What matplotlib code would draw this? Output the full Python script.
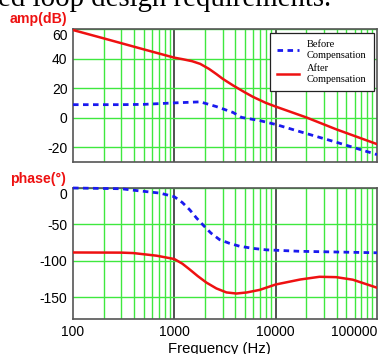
import matplotlib
matplotlib.use('Agg')
import matplotlib.pyplot as plt
from matplotlib.ticker import FixedLocator, NullFormatter

# amplitude (dB)
amp_freq_after = [100, 200, 500, 1000, 1200, 1500, 1800, 2200, 2600, 3000, 3800, 5000, 6000, 8000,
                  10000, 20000, 40000, 100000]
amp_after = [59.3, 53.7, 46.2, 40.6, 39.6, 38.2, 36.4, 33.0, 29.5, 26.3, 21.8, 17.0, 14.0, 10.0,
             7.5, 0.2, -8.0, -17.9]
amp_freq_before = [100, 300, 500, 1000, 1800, 2600, 3800, 4600, 7000, 10000, 20000, 40000, 100000]
amp_before = [8.8, 8.8, 9.0, 10.0, 10.7, 7.5, 3.5, 0.2, -2.0, -4.6, -10.7, -16.7, -25.0]

# phase (deg)
ph_freq_before = [100, 300, 393, 720, 1000, 1200, 1420, 1650, 1925, 2300, 2800, 3500, 4400, 6000,
                  8100, 17500, 100000]
ph_before = [0, -1, -3, -7, -12, -20, -30, -41, -51, -62, -71, -76, -80, -83, -85, -87, -89]
ph_freq_after = [100, 300, 393, 667, 1000, 1200, 1420, 1700, 2075, 2600, 3270, 4100, 5200, 6950,
                 10000, 17500, 27100, 39600, 57700, 100000]
ph_after = [-88.6, -88.8, -89.4, -93, -97.6, -104, -112, -121, -130, -138, -143.5, -145, -143.5,
            -140, -132.6, -125.7, -122, -122.5, -126, -137]

x_ticks = [100, 1000, 10000, 100000]
x_labels = ['100', '1000', '10000', '100000']

green = '#3fe83f'
red = '#ee1111'
blue = '#1a1aee'

plt.rcParams['font.family'] = ['Liberation Sans', 'DejaVu Sans']
plt.rcParams['axes.unicode_minus'] = False

fig = plt.figure(figsize=(3.79, 3.54), dpi=100)
W, H = 379.0, 354.0


def px_axes(l, t, r, b):
    return fig.add_axes([l / W, 1 - b / H, (r - l) / W, (b - t) / H])


def style(ax, yticks):
    ax.set_xscale('log')
    ax.set_xlim(100, 100000)
    ax.xaxis.set_minor_locator(FixedLocator([m * 10 ** e for e in range(2, 5) for m in range(2, 10)]))
    ax.xaxis.set_minor_formatter(NullFormatter())
    ax.set_yticks(yticks)
    ax.grid(which='minor', axis='x', color=green, lw=1.0)
    ax.grid(which='major', axis='y', color=green, lw=1.0)
    for d in [1000, 10000]:
        ax.axvline(d, color='#333333', lw=1.2, zorder=1.5)
    ax.tick_params(which='both', length=0, labelsize=10, pad=4)
    for s in ax.spines.values():
        s.set_color('#555555')
        s.set_linewidth(1.2)
    # top label sits just below the frame, as in the original
    ax.yaxis.get_majorticklabels()[-1].set_verticalalignment('top')


ax1 = px_axes(73, 29, 377, 162)
style(ax1, [-20, 0, 20, 40, 60])
ax1.set_ylim(-30, 60)
ax1.set_xticklabels([])
ax1.plot(amp_freq_before, amp_before, color=blue, lw=2, ls=(0, (2, 1.6)), label='Before\nCompensation', zorder=3)
ax1.plot(amp_freq_after, amp_after, color=red, lw=1.8, label='After\nCompensation', zorder=3)
leg = ax1.legend(loc='upper right', bbox_to_anchor=(0.99, 0.97), borderaxespad=0,
                 prop={'family': 'Liberation Serif', 'size': 7.5}, fancybox=False,
                 edgecolor='#222222', framealpha=1, handlelength=2.1, handletextpad=0.8,
                 borderpad=0.7, labelspacing=0.45)
leg.get_frame().set_linewidth(0.9)

ax2 = px_axes(73, 188, 377, 319)
style(ax2, [-150, -100, -50, 0])
ax2.set_ylim(-180, 0)
ax2.set_xticks(x_ticks)
ax2.set_xticklabels(x_labels)
ax2.xaxis.get_majorticklabels()[-1].set_horizontalalignment('right')
ax2.plot(ph_freq_before, ph_before, color=blue, lw=2, ls=(0, (2, 1.6)), zorder=3, clip_on=False)
ax2.plot(ph_freq_after, ph_after, color=red, lw=1.8, zorder=3)

fig.text(219 / W, 1 - 353 / H, 'Frequency (Hz)', ha='center', va='baseline', fontsize=10.7)
fig.text(10 / W, 1 - 18.5 / H, 'amp(dB)', color=red, fontweight='bold', fontsize=10.2, va='center')
fig.text(10 / W, 1 - 179 / H, 'phase(°)', color=red, fontweight='bold', fontsize=10.2, va='center')
fig.text(-2 / W, 1 - 6 / H, 'ed loop design requirements.', family='Liberation Serif',
         fontsize=20.8, va='baseline', ha='left')

fig.savefig('out.png', dpi=100)
